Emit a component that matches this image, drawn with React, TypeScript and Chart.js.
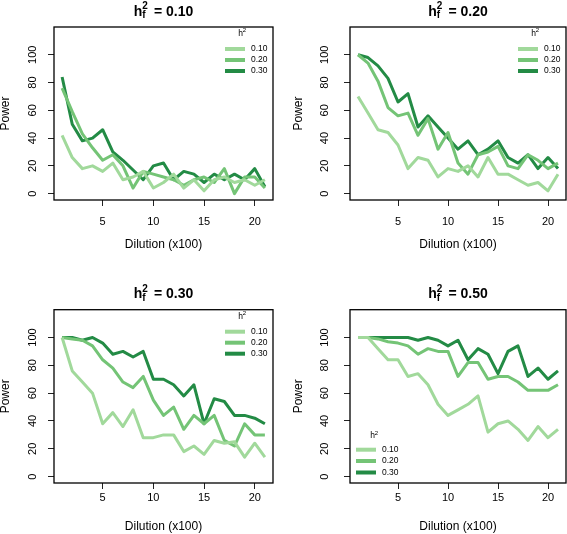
import React, { useEffect, useRef } from 'react';
import { Chart, registerables } from 'chart.js';

Chart.register(...registerables);

// ---------- data ----------
const dilution = [1, 2, 3, 4, 5, 6, 7, 8, 9, 10, 11, 12, 13, 14, 15, 16, 17, 18, 19, 20, 21];
const heritabilityLabels = ['0.10', '0.20', '0.30'];
const familyHeritability = ['0.10', '0.20', '0.30', '0.50'];
const yTickValues = [0, 20, 40, 60, 80, 100];
const xTickValues = [5, 10, 15, 20];

// h2f = 0.10
const powerHf10H10 = [42, 26, 18, 20, 16, 22, 10, 12, 16, 4, 8, 14, 4, 10, 2, 10, 12, 8, 10, 6, 10];
const powerHf10H20 = [76, 59, 43, 33, 24, 28, 20, 4, 16, 14, 12, 10, 6, 10, 12, 8, 18, 0, 12, 12, 4];
const powerHf10H30 = [84, 50, 38, 40, 46, 30, 24, 17, 10, 20, 22, 10, 16, 14, 8, 14, 10, 14, 10, 18, 5];
// h2f = 0.20
const powerHf20H10 = [70, 58, 46, 44, 35, 18, 26, 24, 12, 18, 16, 20, 12, 26, 14, 14, 10, 6, 8, 2, 14];
const powerHf20H20 = [100, 94, 81, 62, 56, 58, 42, 54, 32, 44, 22, 14, 28, 30, 34, 20, 18, 28, 24, 18, 22];
const powerHf20H30 = [100, 98, 92, 83, 66, 72, 48, 56, 48, 40, 32, 38, 28, 32, 38, 26, 22, 28, 18, 26, 18];
// h2f = 0.30
const powerHf30H10 = [100, 76, 68, 60, 38, 46, 36, 48, 28, 28, 30, 30, 18, 22, 16, 26, 24, 25, 14, 24, 14];
const powerHf30H20 = [100, 99, 98, 94, 84, 78, 68, 64, 72, 55, 44, 50, 34, 44, 38, 44, 26, 22, 38, 30, 30];
const powerHf30H30 = [100, 100, 98, 100, 96, 88, 90, 86, 90, 70, 70, 66, 58, 66, 38, 56, 54, 44, 44, 42, 38];
// h2f = 0.50
const powerHf50H10 = [100, 100, 92, 84, 84, 72, 74, 66, 52, 44, 48, 52, 58, 32, 38, 40, 34, 26, 36, 28, 34];
const powerHf50H20 = [100, 100, 99, 97, 96, 94, 88, 92, 90, 90, 72, 82, 82, 70, 72, 72, 68, 62, 62, 62, 66];
const powerHf50H30 = [100, 100, 100, 100, 100, 100, 98, 100, 98, 94, 98, 84, 92, 88, 74, 90, 94, 72, 78, 70, 76];

const panelSeries = [
  [powerHf10H10, powerHf10H20, powerHf10H30],
  [powerHf20H10, powerHf20H20, powerHf20H30],
  [powerHf30H10, powerHf30H20, powerHf30H30],
  [powerHf50H10, powerHf50H20, powerHf50H30],
];

// ---------- styles / layout ----------
const lineColors = ['#a1d99b', '#74c476', '#238b45'];
const FAMILY = '"Liberation Sans", Arial, Helvetica, sans-serif';

const panelLayouts = [
  { x: 0, y: 0, w: 283, h: 267, area: { left: 54, right: 273, top: 27, bottom: 200 }, yTickPad: 6, yTitlePad: 0, xTickPad: 9, xTitlePad: 16, legend: 'topright' },
  { x: 283, y: 0, w: 284, h: 267, area: { left: 67, right: 283, top: 27, bottom: 200 }, yTickPad: 10, yTitlePad: 10, xTickPad: 9, xTitlePad: 16, legend: 'topright' },
  { x: 0, y: 267, w: 283, h: 267, area: { left: 54, right: 273, top: 42.7, bottom: 216 }, yTickPad: 6, yTitlePad: 0, xTickPad: 2.5, xTitlePad: 1, legend: 'topright' },
  { x: 283, y: 267, w: 284, h: 267, area: { left: 67, right: 283, top: 42.7, bottom: 216 }, yTickPad: 10, yTitlePad: 10, xTickPad: 2.5, xTitlePad: 1, legend: 'bottomleft' },
];

const decorPlugin = {
  id: 'panelDecor',
  afterDraw(chart: any, _args: any, opts: any) {
    const { ctx, chartArea: a } = chart;
    ctx.save();
    // box
    ctx.strokeStyle = '#000';
    ctx.lineWidth = 1.3;
    ctx.strokeRect(a.left, a.top, a.right - a.left, a.bottom - a.top);

    // title: h^2_f = value
    const big = `bold 14px ${FAMILY}`;
    const small = `bold 10px ${FAMILY}`;
    ctx.fillStyle = '#000';
    ctx.textAlign = 'left';
    ctx.textBaseline = 'alphabetic';
    ctx.font = big;
    const wh = ctx.measureText('h').width;
    const rest = '= ' + opts.title;
    const wRest = ctx.measureText(rest).width;
    ctx.font = small;
    const wCol = Math.max(ctx.measureText('2').width, ctx.measureText('f').width);
    const gap = 6;
    const total = wh + wCol + gap + wRest;
    let x = (a.left + a.right) / 2 - total / 2;
    const base = a.top - 11.5;
    ctx.font = big;
    ctx.fillText('h', x, base);
    x += wh;
    ctx.font = small;
    ctx.fillText('2', x, base - 6.5);
    ctx.fillText('f', x, base + 2.5);
    x += wCol + gap;
    ctx.font = big;
    ctx.fillText(rest, x, base);

    // legend
    const ds = chart.data.datasets;
    let lx0: number, lx1: number, tx: number, titleX: number, titleY: number, rows: number[];
    if (opts.legend === 'topright') {
      lx0 = a.right - 48; lx1 = a.right - 28; tx = a.right - 22;
      titleX = a.right - 31; titleY = a.top + 6.5;
      rows = [22, 33, 44].map((d) => a.top + d);
    } else {
      lx0 = a.left + 6; lx1 = a.left + 26; tx = a.left + 32;
      titleX = a.left + 24; titleY = a.bottom - 47;
      rows = [-33.3, -22, -10.5].map((d) => a.bottom + d);
    }
    // legend title h^2
    ctx.textBaseline = 'middle';
    ctx.fillStyle = '#000';
    ctx.font = `8.5px ${FAMILY}`;
    const hw = ctx.measureText('h').width;
    ctx.fillText('h', titleX - hw / 2 - 1.5, titleY);
    ctx.font = `6px ${FAMILY}`;
    ctx.fillText('2', titleX + hw / 2 - 1.5, titleY - 3);
    ctx.font = `8.5px ${FAMILY}`;
    ds.forEach((d: any, i: number) => {
      ctx.strokeStyle = d.borderColor;
      ctx.lineWidth = 4;
      ctx.beginPath();
      ctx.moveTo(lx0, rows[i]);
      ctx.lineTo(lx1, rows[i]);
      ctx.stroke();
      ctx.fillStyle = '#000';
      ctx.fillText(d.label, tx, rows[i]);
    });
    ctx.restore();
  },
};

function Panel({ index }: { index: number }) {
  const ref = useRef<HTMLCanvasElement>(null);
  const cfg = panelLayouts[index];
  useEffect(() => {
    const tickFont = { family: FAMILY, size: 11 };
    const titleFont = { family: FAMILY, size: 12, lineHeight: 1 };
    const gridCfg = { drawOnChartArea: false, drawTicks: true, tickLength: 6, color: '#222', lineWidth: 1 };
    const chart = new Chart(ref.current as HTMLCanvasElement, {
      type: 'line',
      data: {
        datasets: panelSeries[index].map((s, i) => ({
          label: heritabilityLabels[i],
          data: dilution.map((d, j) => ({ x: d, y: s[j] })),
          borderColor: lineColors[i],
          backgroundColor: lineColors[i],
          borderWidth: 3,
          pointRadius: 0,
          fill: false,
          tension: 0,
          borderJoinStyle: 'round',
        })),
      },
      options: {
        animation: false,
        responsive: false,
        devicePixelRatio: 1,
        events: [],
        layout: { padding: { left: 0, top: cfg.area.top, right: cfg.w - cfg.area.right, bottom: 0 } },
        plugins: {
          legend: { display: false },
          tooltip: { enabled: false },
          title: { display: false },
          panelDecor: { title: familyHeritability[index], legend: cfg.legend },
        } as any,
        scales: {
          x: {
            type: 'linear',
            min: 0.2,
            max: 21.8,
            afterBuildTicks: (s: any) => { s.ticks = xTickValues.map((v) => ({ value: v })); },
            afterFit: (s: any) => { s.height = cfg.h - cfg.area.bottom; },
            grid: gridCfg,
            border: { display: false },
            ticks: { font: tickFont, color: '#000', padding: cfg.xTickPad, maxRotation: 0, autoSkip: false, callback: (v: any) => String(v) },
            title: { display: true, text: 'Dilution (x100)', font: titleFont, color: '#000', padding: { top: 0, bottom: cfg.xTitlePad } },
          },
          y: {
            type: 'linear',
            min: -4.6,
            max: 120,
            afterBuildTicks: (s: any) => { s.ticks = yTickValues.map((v) => ({ value: v })); },
            afterFit: (s: any) => { s.width = cfg.area.left; },
            grid: gridCfg,
            border: { display: false },
            ticks: { font: tickFont, color: '#000', padding: cfg.yTickPad, minRotation: 90, maxRotation: 90, crossAlign: 'center', autoSkip: false, callback: (v: any) => String(v) },
            title: { display: true, text: 'Power', font: titleFont, color: '#000', padding: { top: cfg.yTitlePad, bottom: 0 } },
          },
        } as any,
      },
      plugins: [decorPlugin],
    } as any);
    return () => chart.destroy();
  }, []);
  return (
    <canvas
      ref={ref}
      width={cfg.w}
      height={cfg.h}
      style={{ position: 'absolute', left: cfg.x, top: cfg.y, width: cfg.w, height: cfg.h, display: 'block' }}
    />
  );
}

export default function App() {
  return (
    <div style={{ position: 'absolute', left: 0, top: 0, width: 567, height: 534, background: '#fff', overflow: 'hidden' }}>
      {[0, 1, 2, 3].map((i) => (
        <Panel key={i} index={i} />
      ))}
    </div>
  );
}
